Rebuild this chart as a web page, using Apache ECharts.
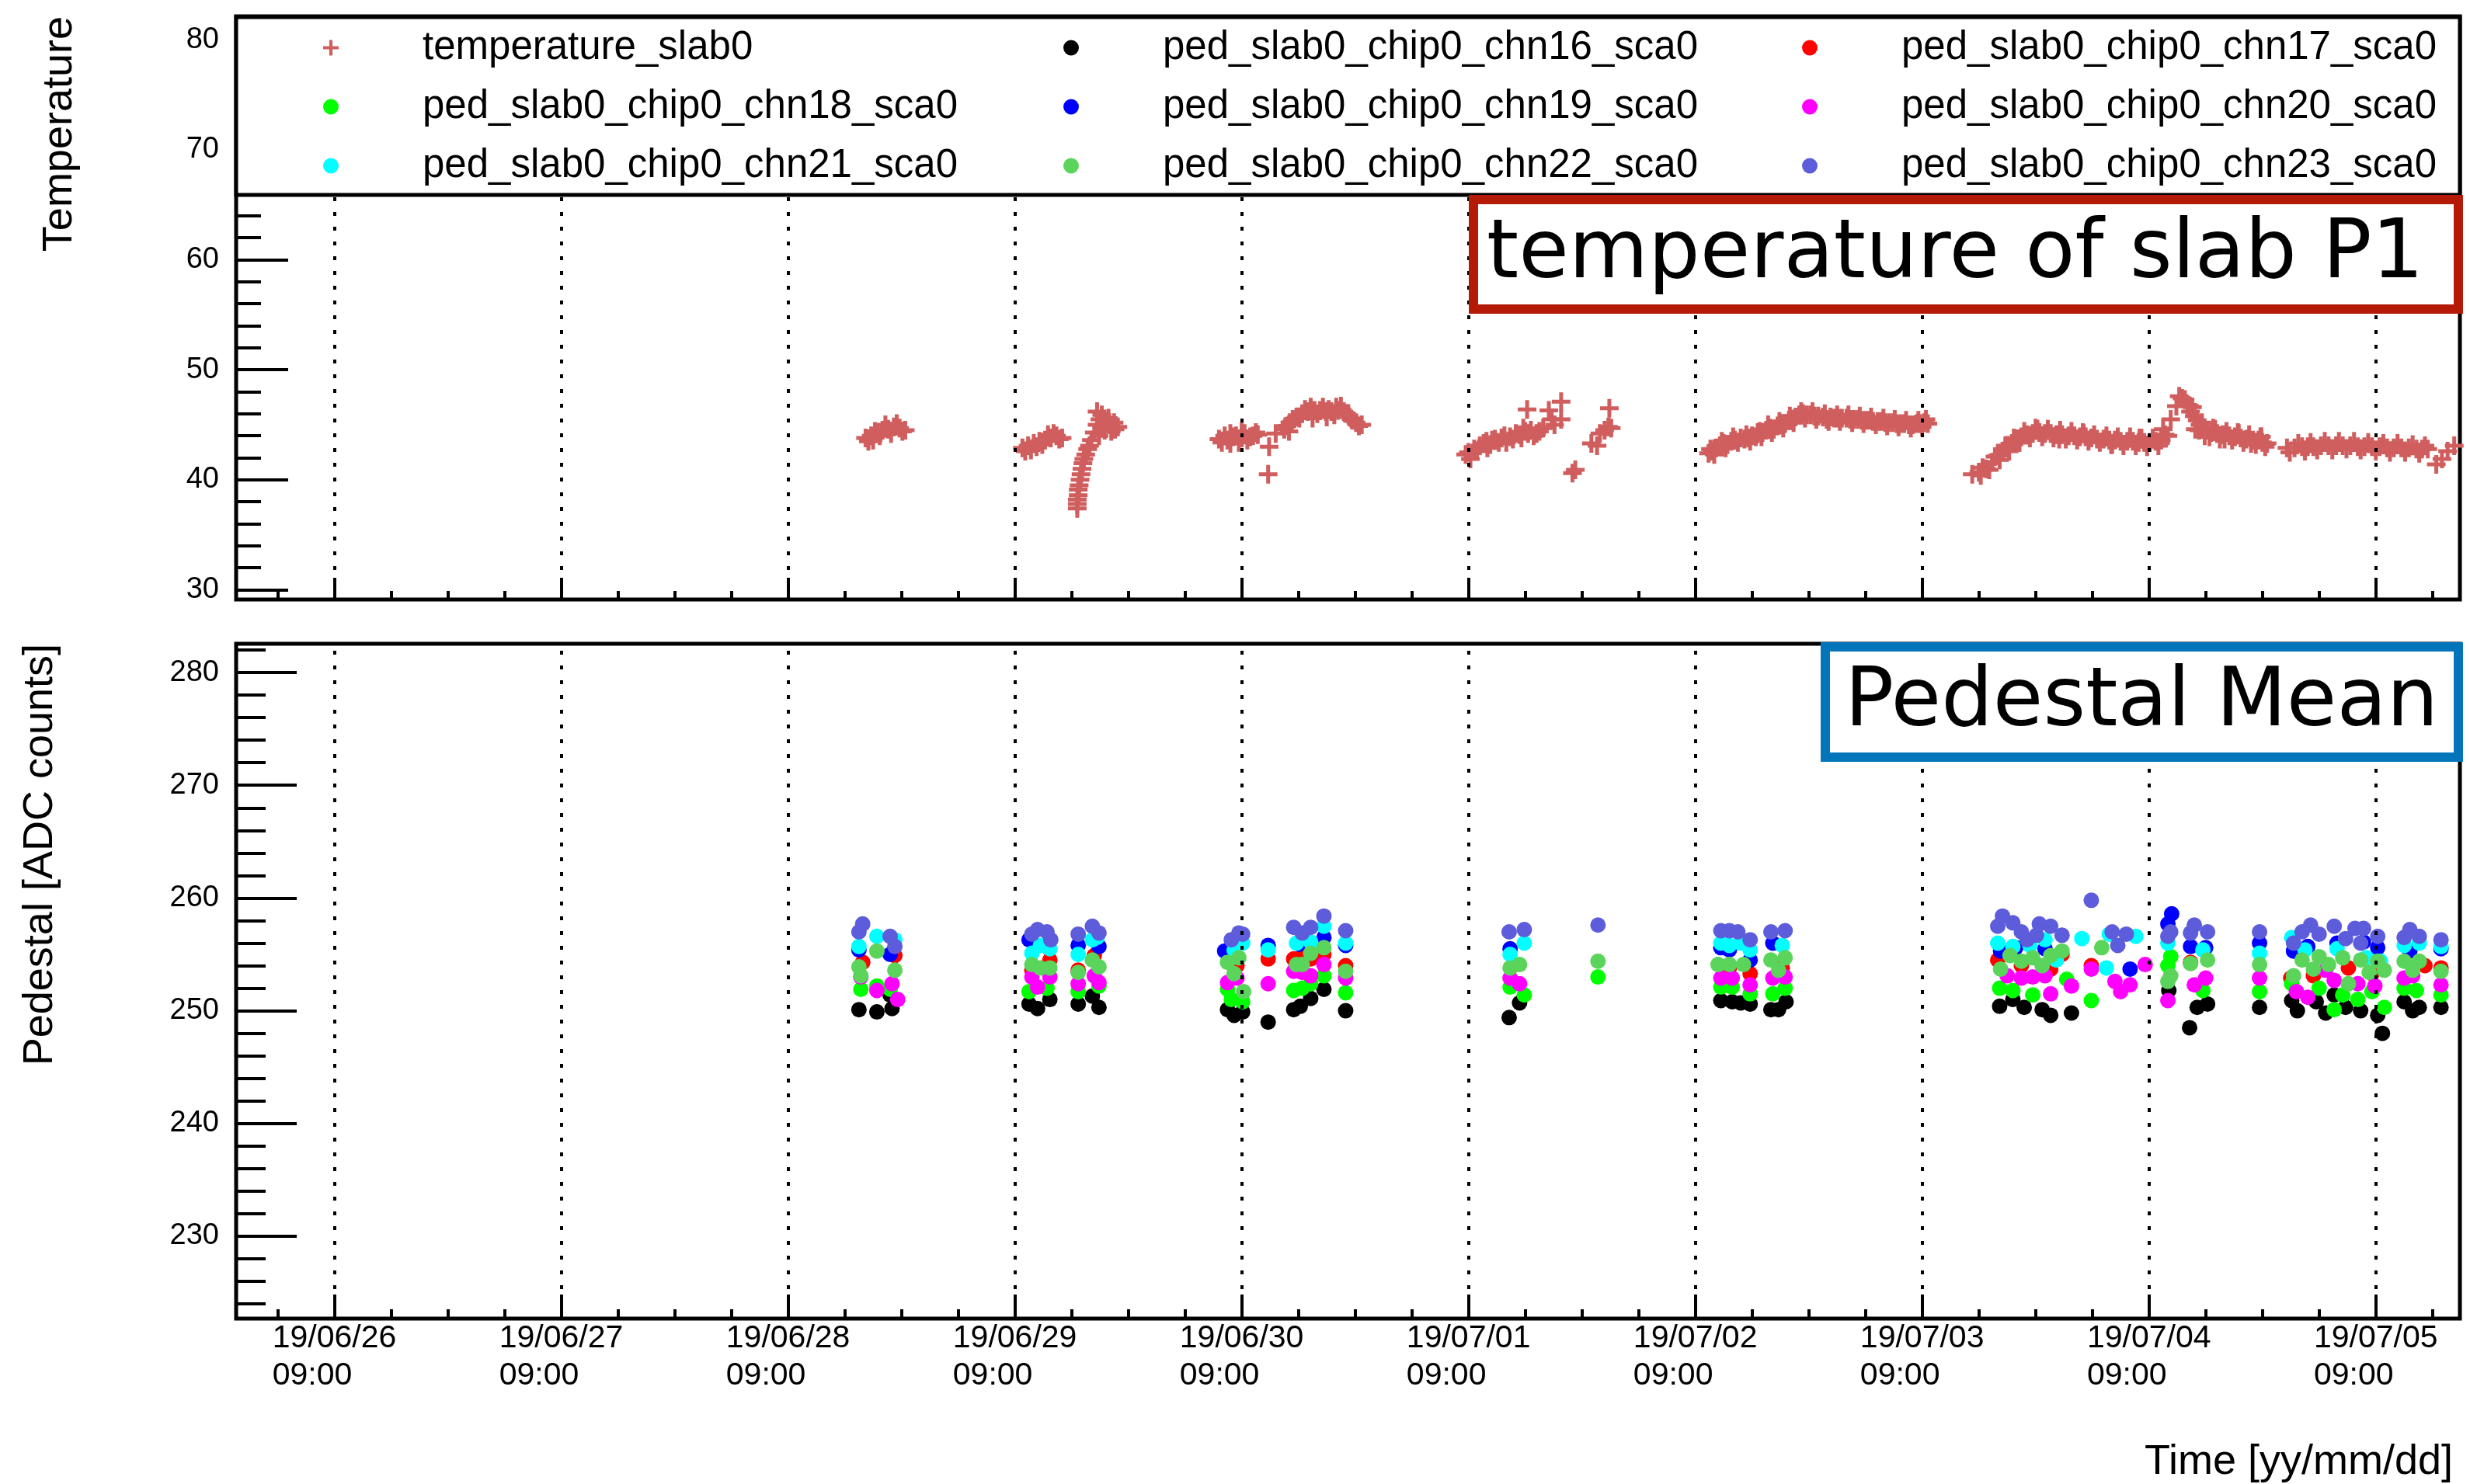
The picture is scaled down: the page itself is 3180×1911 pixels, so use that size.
<!DOCTYPE html>
<html>
<head>
<meta charset="utf-8">
<script src="https://cdn.jsdelivr.net/npm/echarts@6.0.0/dist/echarts.min.js"></script>
<style>
html, body { margin: 0; padding: 0; background: #fff; }
#myChart { width: 3180px; height: 1911px; }
</style>
</head>
<body>
<div id="myChart"></div>
<script>
// time is in hours since 19/06/26 09:00
var xRange = [-10.4, 224.9];
var xMajorTicks = [0, 24, 48, 72, 96, 120, 144, 168, 192, 216];
var xMinorTicks = [-6, 6, 12, 18, 30, 36, 42, 54, 60, 66, 78, 84, 90, 102, 108, 114, 126, 132, 138, 150, 156, 162, 174, 180, 186, 198, 204, 210, 222];
var xTickLabels = ['19/06/26\n09:00', '19/06/27\n09:00', '19/06/28\n09:00', '19/06/29\n09:00', '19/06/30\n09:00',
                   '19/07/01\n09:00', '19/07/02\n09:00', '19/07/03\n09:00', '19/07/04\n09:00', '19/07/05\n09:00'];

var tempRange = [29.12, 82.13];
var tempMajor = [30, 40, 50, 60, 70, 80];
var tempMinor = [32, 34, 36, 38, 42, 44, 46, 48, 52, 54, 56, 58, 62, 64, 66, 68, 72, 74, 76, 78, 82];

var pedRange = [222.7, 282.55];
var pedMajor = [230, 240, 250, 260, 270, 280];
var pedMinor = [224, 226, 228, 232, 234, 236, 238, 242, 244, 246, 248, 252, 254, 256, 258, 262, 264, 266, 268, 272, 274, 276, 278, 282];

var tempPoints = [
    // 06/28 evening
    [56.2,43.8],[56.5,43.5],[56.8,44.0],[57.0,43.6],[57.2,44.4],[57.4,44.3],[57.7,44.0],[58.0,44.5],[58.3,45.0],[58.6,44.6],
    [58.9,44.2],[59.2,44.8],[59.5,45.1],[59.8,44.7],[60.1,44.4],[60.4,44.5],
    // 06/29 morning
    [72.8,42.9],[73.1,42.6],[73.4,43.1],[73.7,42.7],[74.0,43.3],[74.3,43.0],[74.6,43.5],[74.9,43.2],[75.2,43.6],[75.5,44.1],
    [75.8,43.8],[76.1,44.2],[76.4,44.0],[76.7,43.7],[77.0,43.8],
    // 06/29 recovery
    [78.6,37.4],[78.6,37.8],[78.6,38.2],[78.7,38.6],[78.7,39.1],[78.8,39.5],[78.9,40.0],[79.0,40.5],[79.1,41.0],[79.2,41.5],
    [79.3,41.9],[79.5,42.3],[79.7,42.8],[79.9,43.1],[80.1,43.6],[80.4,44.3],[80.7,45.0],[80.7,46.2],[80.9,44.0],[81.0,45.5],
    [81.2,45.9],[81.3,44.8],[81.5,44.5],[81.7,45.3],[81.9,45.6],[82.0,45.0],[82.2,44.4],[82.3,44.8],[82.5,45.2],[82.6,44.6],
    [82.9,44.8],
    // 06/30 morning
    [93.6,43.7],[93.9,43.4],[94.2,44.0],[94.5,43.6],[94.8,44.2],[94.8,43.3],[95.1,43.9],[95.4,44.0],[95.7,43.4],[96.0,43.8],
    [96.0,44.4],[96.3,44.2],[96.6,43.6],[96.9,43.9],[97.2,44.0],[97.5,44.3],[97.7,44.1],
    [98.8,40.5],[98.9,43.0],[99.6,44.2],
    // 06/30 afternoon
    [100.5,44.6],[100.8,44.9],[101.0,44.4],[101.1,45.2],[101.4,45.5],[101.8,45.7],[102.1,45.6],[102.4,46.0],[102.7,46.4],
    [103.0,46.2],[103.3,46.6],[103.5,45.6],[103.7,46.3],[104.0,46.0],[104.3,46.3],[104.6,46.6],[104.9,46.2],[105.0,45.7],
    [105.2,46.4],[105.5,46.2],[105.8,45.9],[106.0,46.6],[106.2,46.3],[106.5,46.7],[106.8,46.2],[107.1,46.0],[107.4,45.7],
    [107.7,45.4],[108.1,45.2],[108.4,44.9],[108.7,45.0],
    // 07/01
    [119.7,42.3],[120.0,42.5],[120.2,41.9],[120.6,42.8],[120.9,42.6],[121.2,43.1],[121.6,43.3],[121.9,43.5],[122.0,42.9],
    [122.3,43.2],[122.5,43.6],[122.8,43.7],[123.2,43.4],[123.5,43.8],[123.8,44.0],[124.0,43.4],[124.4,43.9],[124.7,43.7],
    [125.0,44.2],[125.4,44.1],[125.6,43.8],[125.8,44.7],[126.0,44.4],[126.2,46.4],[126.3,44.2],[126.6,44.5],[126.9,44.0],
    [127.2,44.2],[127.5,44.4],[127.9,44.7],[128.5,46.3],[128.8,45.5],[129.1,45.0],[129.8,47.1],[129.8,45.5],
    [131.0,40.6],[131.3,40.9],
    [133.0,43.3],[133.6,43.1],[133.9,44.2],[134.4,44.5],[134.8,44.8],[134.9,46.5],[135.1,44.7],
    // 07/02
    [145.4,42.4],[145.8,42.6],[146.2,42.9],[146.6,43.1],[147.0,43.3],[147.4,43.2],[147.8,43.5],[148.2,43.6],[148.8,43.8],
    [149.2,43.7],[149.6,43.8],[150.0,44.0],[150.4,43.9],[150.8,44.4],[151.1,44.3],[151.5,44.5],[151.9,44.7],[152.3,44.6],
    [152.7,44.9],[153.1,45.0],[153.5,45.1],[153.9,45.4],[154.2,45.5],[154.6,45.7],[155.0,45.9],[155.4,46.0],[155.8,45.9],
    [156.2,45.9],[156.6,45.8],[157.0,45.8],[157.5,45.7],[157.9,45.5],[158.3,45.7],[158.7,45.6],[159.1,45.6],[159.5,45.6],
    [160.0,45.6],[160.4,45.5],[160.8,45.5],[161.2,45.5],[161.6,45.4],[162.0,45.4],[162.4,45.4],[162.8,45.3],[163.3,45.3],
    [163.7,45.3],[164.1,45.2],[164.5,45.2],[164.9,45.2],[165.3,45.1],[165.7,45.1],[166.1,45.1],[166.6,45.0],[167.0,45.0],
    [167.4,45.1],[167.8,45.1],[168.2,45.2],[168.6,45.1],
    [145.6,42.8],[146.8,43.5],[148.0,43.9],[149.4,44.1],[150.6,44.3],[151.7,45.0],[152.9,45.3],[154.0,45.8],[155.2,46.2],
    [156.4,46.2],[157.7,46.0],[159.0,45.9],[160.2,45.9],[161.4,45.8],[162.6,45.7],[163.9,45.6],[165.1,45.5],[166.3,45.4],
    [167.6,45.4],[168.4,45.5],
    [146.0,42.3],[147.2,42.9],[148.5,43.4],[149.8,43.5],[151.0,43.9],[152.1,44.3],[153.3,44.7],[154.4,45.2],[155.6,45.6],
    [156.8,45.5],[158.1,45.3],[159.3,45.3],[160.6,45.2],[161.8,45.1],[163.1,45.0],[164.3,44.9],[165.5,44.8],[166.8,44.7],
    [168.0,44.8],
    // 07/03 - 07/04
    [173.3,40.5],[174.0,40.7],[174.8,41.0],[175.4,41.6],[176.0,42.2],[176.5,42.6],[177.0,42.9],[177.5,43.3],[177.9,43.6],
    [178.2,43.4],[178.5,43.9],[179.1,44.1],[179.7,44.2],[180.0,44.7],[180.4,44.3],[181.0,44.2],[181.6,44.2],[182.2,44.1],
    [182.5,43.7],[182.8,44.1],[183.5,44.0],[184.1,44.0],[184.7,43.9],[185.0,44.3],[185.3,43.9],[185.9,43.8],[186.5,43.7],
    [187.2,43.7],[187.8,43.6],[188.0,43.2],[188.4,43.6],[189.0,43.5],[189.7,43.5],[190.3,43.5],[190.9,43.4],[191.0,43.8],
    [191.5,43.4],[192.1,43.4],[192.7,43.5],[193.3,43.6],[193.7,44.1],[194.3,45.5],[194.9,46.7],[195.5,47.4],[195.8,47.3],
    [196.1,46.8],[196.4,46.2],[196.6,46.6],[196.8,45.8],[197.1,45.4],[197.3,44.5],[197.4,45.0],[197.7,44.7],[198.1,44.5],
    [198.4,43.9],[198.6,44.3],[199.0,44.6],[199.2,44.2],[199.8,44.1],[200.0,43.7],[200.5,44.0],[201.1,43.9],[201.5,44.2],
    [201.7,43.8],[202.3,43.7],[202.8,43.3],[203.0,43.6],[203.6,43.6],[203.8,43.9],[204.0,43.4],[204.5,43.3],
    [174.4,41.1],[175.7,42.1],[176.8,43.1],[177.7,43.8],[178.8,44.4],[180.2,44.6],[181.3,44.6],[182.6,44.5],[183.8,44.4],
    [185.1,44.2],[186.2,44.1],[187.5,44.0],[188.7,43.9],[190.0,43.9],[191.2,43.8],[192.4,43.8],[193.5,44.6],[195.2,47.6],
    [196.3,46.7],[197.6,45.2],[198.8,44.7],[200.2,44.4],[201.4,44.3],[202.6,44.1],[203.9,43.9],
    [174.2,40.4],[175.1,40.9],[176.2,41.8],[177.2,42.6],[178.3,43.4],[179.4,43.8],[180.7,43.9],[181.9,43.8],[183.2,43.7],
    [184.4,43.6],[185.6,43.5],[186.8,43.4],[188.1,43.2],[189.3,43.1],[190.6,43.1],[191.8,43.0],[193.0,43.1],[194.0,44.0],
    [196.9,44.6],[197.9,44.0],[199.5,43.7],[200.8,43.6],[202.0,43.4],[203.3,43.2],[204.3,43.0],
    // 07/04 evening - 07/05
    [206.6,42.9],[206.9,42.5],[207.4,42.9],[207.8,43.3],[208.2,43.0],[208.5,42.6],[208.8,43.0],[209.1,43.4],[209.4,43.0],
    [209.8,42.7],[210.2,43.1],[210.6,43.5],[211.0,43.1],[211.4,42.7],[211.8,43.1],[212.1,43.5],[212.5,43.1],[212.9,42.8],
    [213.3,43.1],[213.7,43.5],[214.1,43.0],[214.4,42.7],[214.8,43.0],[215.2,43.4],[215.6,43.0],[216.0,42.6],[216.4,43.0],
    [216.8,43.3],[217.2,42.9],[217.5,42.5],[217.9,42.9],[218.3,43.3],[218.7,42.9],[219.1,42.5],[219.5,42.9],[219.9,43.2],
    [220.3,42.8],[220.6,42.4],[220.9,42.8],[221.2,43.1],[221.5,42.8],
    [222.4,41.4],[223.0,41.9],[223.6,42.6],[224.3,43.1]
];

var ped16 = [[55.5,250.1],[57.4,249.9],[59.0,250.2],[58.8,251.4],[73.5,250.6],[74.4,250.2],[75.7,251.0],[78.7,250.6],[80.2,251.3],[80.9,250.3],
    [94.5,250.1],[95.2,249.6],[96.1,249.9],[98.8,249.0],[101.5,250.1],[102.2,250.4],[103.3,251.1],[104.7,251.9],[107.0,250.0],
    [125.4,250.7],[124.3,249.4],[146.7,250.9],[147.9,250.8],[148.8,250.7],[149.8,250.6],[152.0,250.1],[152.8,250.1],[153.6,250.8],
    [176.2,250.4],[177.6,251.0],[178.8,250.3],[180.7,250.1],[181.6,249.6],[183.8,249.8],[194.1,251.8],[197.1,250.3],[198.2,250.6],
    [196.3,248.5],[203.7,250.3],[207.1,250.9],[207.7,250.0],[209.7,250.8],[210.7,249.8],[211.6,251.4],[212.8,250.3],[214.4,250.0],
    [216.2,249.6],[216.7,248.0],[219.0,250.8],[219.9,250.0],[220.6,250.3],[222.9,250.3]];
var ped17 = [[55.9,254.3],[59.3,254.9],[73.8,253.6],[75.7,254.5],[80.4,254.9],[78.7,253.6],[95.5,254.0],[98.8,254.6],
    [101.5,254.6],[102.4,254.8],[103.3,254.6],[104.7,255.0],[107.0,254.0],[124.7,254.0],[147.6,253.8],[149.8,253.3],[153.2,253.8],
    [176.0,254.5],[178.5,254.0],[181.6,253.7],[182.8,255.0],[185.9,254.0],[196.4,254.3],[207.0,252.9],[209.4,253.1],[213.1,253.8],
    [215.6,253.3],[221.2,254.0],[222.9,253.8]];
var ped18 = [[55.7,251.9],[57.4,252.2],[58.8,251.9],[73.5,251.7],[75.4,252.0],[78.7,251.7],[80.9,252.2],[94.9,251.0],[96.1,250.8],
    [94.5,251.9],[101.5,251.8],[102.4,252.0],[103.3,252.4],[104.7,253.1],[107.0,251.6],[124.4,252.1],[125.9,251.4],[133.7,253.0],
    [146.7,252.1],[147.9,252.1],[149.8,251.5],[152.2,251.5],[153.5,252.0],[176.2,252.0],[177.6,251.8],[179.7,251.4],[183.3,252.8],
    [185.9,250.9],[194.3,254.8],[194.0,254.0],[197.7,251.8],[203.7,251.7],[207.1,252.4],[210.0,252.0],[211.6,250.1],[212.5,251.4],
    [214.1,251.0],[215.6,251.7],[216.9,250.3],[219.0,252.0],[220.3,251.8],[222.9,251.4]];
var ped19 = [[55.5,255.4],[58.8,255.0],[73.5,256.3],[75.4,255.7],[78.7,255.8],[80.9,255.7],[94.2,255.3],[98.8,255.8],
    [102.1,255.9],[104.7,256.5],[107.0,255.8],[124.4,255.5],[146.7,255.6],[147.6,255.4],[149.8,254.5],[152.2,256.0],
    [176.3,255.3],[177.9,255.6],[181.0,255.5],[190.0,253.7],[194.4,258.6],[194.0,257.7],[196.4,255.7],[198.0,255.6],[203.7,256.0],
    [207.3,255.3],[208.8,255.7],[211.9,256.0],[214.7,256.1],[216.2,255.6],[219.6,255.3],[222.9,255.5]];
var ped20 = [[55.7,253.0],[59.0,252.4],[57.4,251.8],[59.6,251.0],[73.8,253.0],[74.4,252.1],[75.7,253.0],[78.7,252.4],[80.4,253.1],
    [80.9,252.5],[94.5,252.5],[95.5,252.9],[98.8,252.4],[101.5,253.5],[102.4,253.4],[103.3,253.1],[104.7,254.1],[107.0,252.9],
    [124.4,252.9],[125.4,252.4],[146.7,252.9],[147.9,252.9],[149.8,252.3],[152.2,252.9],[153.5,253.0],[177.0,253.1],[178.5,252.9],
    [179.7,253.0],[181.0,253.1],[181.6,251.5],[183.8,252.2],[185.9,253.7],[188.4,252.6],[189.0,251.7],[190.0,252.3],[191.6,254.1],
    [194.0,250.9],[196.8,252.3],[198.0,252.9],[203.7,252.9],[207.6,251.7],[208.8,251.2],[210.7,253.6],[211.6,252.7],[214.1,252.4],
    [215.9,252.2],[219.0,252.9],[219.9,253.1],[222.9,252.3]];
var ped21 = [[55.5,255.7],[57.4,256.6],[59.3,256.3],[73.8,255.1],[74.7,255.8],[75.7,255.5],[78.7,255.0],[80.2,256.3],[80.7,256.5],
    [95.2,255.4],[96.1,256.0],[98.8,255.4],[101.8,256.0],[103.3,256.1],[104.7,257.5],[107.0,256.0],[124.4,255.0],[125.9,256.0],
    [146.7,256.0],[147.6,255.8],[148.8,256.0],[149.8,255.4],[153.2,255.8],[176.0,256.0],[177.6,255.7],[179.4,255.8],[181.0,256.3],
    [182.2,254.5],[184.9,256.4],[187.8,256.8],[190.6,256.6],[187.5,253.8],[194.0,256.0],[197.7,255.4],[203.7,255.1],[207.1,256.5],
    [208.5,255.4],[211.9,255.5],[215.0,254.7],[216.5,254.4],[219.0,255.8],[220.6,256.0],[222.9,255.7]];
var ped22 = [[55.5,253.9],[57.4,255.3],[59.3,253.6],[55.7,253.1],[73.8,254.1],[74.7,253.8],[75.7,253.8],[80.2,254.5],[80.9,253.9],
    [78.7,253.4],[94.5,254.3],[95.7,254.7],[95.2,253.3],[96.2,251.7],[101.8,254.1],[102.4,254.1],[103.3,255.1],[104.7,255.6],
    [107.0,253.5],[124.4,253.8],[125.4,254.1],[133.7,254.4],[146.4,254.1],[147.6,254.1],[149.1,254.1],[152.0,254.5],[153.5,254.7],
    [152.8,253.6],[176.3,253.7],[177.3,254.9],[178.5,254.4],[179.7,254.7],[180.7,254.0],[181.6,254.9],[182.8,255.3],[187.0,255.6],
    [194.3,253.1],[194.0,252.6],[196.4,254.2],[198.2,254.5],[203.7,254.1],[207.3,253.1],[208.2,254.5],[209.4,253.7],[210.0,254.8],
    [211.0,254.1],[212.5,254.7],[213.1,252.4],[214.4,254.5],[215.3,253.4],[216.2,254.4],[216.9,253.6],[219.0,254.4],[219.9,253.6],
    [220.6,254.4],[222.9,253.5]];
var ped23 = [[55.9,257.7],[55.5,257.0],[58.8,256.6],[59.3,255.7],[73.8,256.8],[74.4,257.2],[75.4,257.0],[75.8,256.3],[78.7,256.8],
    [80.2,257.5],[80.9,256.9],[94.9,256.3],[95.7,256.9],[96.1,256.8],[101.5,257.4],[102.4,256.9],[103.3,257.4],[104.7,258.4],
    [107.0,257.1],[124.3,257.0],[125.9,257.2],[133.7,257.6],[146.7,257.1],[147.6,257.1],[148.5,257.0],[149.8,256.3],[152.0,257.0],
    [153.5,257.1],[176.5,258.4],[176.0,257.5],[177.6,257.8],[178.5,257.0],[179.1,256.3],[180.4,257.7],[181.6,257.5],[182.8,256.7],
    [180.1,256.7],[185.9,259.8],[188.1,257.0],[188.7,255.8],[189.6,256.8],[194.3,257.0],[196.4,256.9],[196.8,257.6],[198.2,257.0],
    [194.0,256.6],[203.7,257.0],[207.3,256.0],[208.2,257.0],[209.1,257.6],[210.0,256.8],[211.6,257.5],[212.8,256.4],[213.8,257.3],
    [214.7,257.3],[214.4,256.0],[216.2,256.6],[219.6,257.2],[219.0,256.5],[220.6,256.6],[222.9,256.3]];

var pedNames = ['ped_slab0_chip0_chn16_sca0', 'ped_slab0_chip0_chn17_sca0', 'ped_slab0_chip0_chn18_sca0', 'ped_slab0_chip0_chn19_sca0',
                'ped_slab0_chip0_chn20_sca0', 'ped_slab0_chip0_chn21_sca0', 'ped_slab0_chip0_chn22_sca0', 'ped_slab0_chip0_chn23_sca0'];
var pedColors = ['#000000', '#ff0000', '#00ff00', '#0000ff', '#ff00ff', '#00ffff', '#5ad45a', '#5d5cdb'];
var pedData = [ped16, ped17, ped18, ped19, ped20, ped21, ped22, ped23];
var tempName = 'temperature_slab0';
var tempColor = '#d05e5e';

var FONT = 'Liberation Sans, Arial, Helvetica, sans-serif';
var plusPath = 'path://M-1.25,-6L1.25,-6L1.25,-1.25L6,-1.25L6,1.25L1.25,1.25L1.25,6L-1.25,6L-1.25,1.25L-6,1.25L-6,-1.25L-1.25,-1.25Z';

var myChart = echarts.init(document.getElementById('myChart'));

var panels = [
    {left: 304, top: 21, width: 2863, height: 751},
    {left: 304, top: 829, width: 2863, height: 869}
];

function gridOf(p, show){
    return {left: p.left, top: p.top, width: p.width, height: p.height, show: show,
        borderColor: '#000', borderWidth: 5, backgroundColor: 'transparent',
        containLabel: false, outerBoundsMode: 'none'};
}

function xAxisOf(gi, ticks, len, labels){
    return {
        type: 'value', gridIndex: gi, min: xRange[0], max: xRange[1], position: 'bottom',
        axisLine: {show: false, onZero: false},
        splitLine: {show: false},
        axisTick: {show: true, inside: true, length: len, customValues: ticks, lineStyle: {color: '#000', width: 4}},
        axisLabel: labels ? {
            show: true, customValues: xMajorTicks, margin: 2,
            formatter: function(v){
                var i = xMajorTicks.indexOf(v);
                var parts = xTickLabels[i].split('\n');
                return '{d|' + parts[0] + '}\n{d|' + parts[1] + '}';
            },
            rich: {d: {fontSize: 41, fontFamily: FONT, color: '#000', lineHeight: 48, align: 'left'}}
        } : {show: false}
    };
}

function yAxisOf(gi, range, ticks, len, labels){
    return {
        type: 'value', gridIndex: gi, min: range[0], max: range[1], position: 'left',
        axisLine: {show: false, onZero: false},
        splitLine: {show: false},
        axisTick: {show: true, inside: true, length: len, customValues: ticks, lineStyle: {color: '#000', width: 4}},
        axisLabel: labels ? {show: true, customValues: ticks, margin: 22, fontSize: 38, fontFamily: FONT, color: '#000'} : {show: false}
    };
}

var dotted = {
    silent: true, symbol: ['none', 'none'], label: {show: false},
    lineStyle: {color: '#000', width: 4, type: [5, 14], opacity: 1},
    emphasis: {disabled: true},
    data: xMajorTicks.map(function(v){ return {xAxis: v}; })
};

var series = [
    {type: 'line', xAxisIndex: 0, yAxisIndex: 0, data: [], z: 1, silent: true, markLine: dotted},
    {type: 'line', xAxisIndex: 2, yAxisIndex: 2, data: [], z: 1, silent: true, markLine: dotted},
    {name: tempName, type: 'scatter', xAxisIndex: 0, yAxisIndex: 0, symbol: plusPath, symbolSize: 24,
     itemStyle: {color: tempColor, opacity: 1}, emphasis: {disabled: true}, data: tempPoints, z: 3}
];
for (var i = 0; i < pedData.length; i++){
    series.push({name: pedNames[i], type: 'scatter', xAxisIndex: 2, yAxisIndex: 2, symbol: 'circle', symbolSize: 20,
        itemStyle: {color: pedColors[i], opacity: 1}, emphasis: {disabled: true}, data: pedData[i], z: 3});
}

function legendOf(left, names){
    return {
        left: left, top: 36, orient: 'vertical', padding: 0, itemGap: 25, itemWidth: 20, itemHeight: 20,
        selectedMode: false, z: 60,
        textStyle: {fontSize: 51, fontFamily: FONT, color: '#000', lineHeight: 50, padding: [0, 0, 0, 103]},
        data: names.map(function(n){ return {name: n, icon: n == tempName ? plusPath : 'circle'}; })
    };
}

function textEl(txt, x, y, size, family, align, rot){
    return {type: 'text', x: x, y: y, rotation: rot || 0, z: 70, silent: true,
        style: {text: txt, fontSize: size, fontFamily: family, fill: '#000',
            align: align, textAlign: align, verticalAlign: 'middle', textVerticalAlign: 'middle'}};
}

var option = {
    animation: false,
    textStyle: {fontFamily: FONT},
    grid: [gridOf(panels[0], true), gridOf(panels[0], false), gridOf(panels[1], true), gridOf(panels[1], false)],
    xAxis: [xAxisOf(0, xMajorTicks, 28, false), xAxisOf(1, xMinorTicks, 11, false),
            xAxisOf(2, xMajorTicks, 31, true), xAxisOf(3, xMinorTicks, 12, false)],
    yAxis: [yAxisOf(0, tempRange, tempMajor, 67, true), yAxisOf(1, tempRange, tempMinor, 32, false),
            yAxisOf(2, pedRange, pedMajor, 78, true), yAxisOf(3, pedRange, pedMinor, 38, false)],
    legend: [
        legendOf(416, [tempName, pedNames[2], pedNames[5]]),
        legendOf(1369, [pedNames[0], pedNames[3], pedNames[6]]),
        legendOf(2320, [pedNames[1], pedNames[4], pedNames[7]])
    ],
    graphic: [
        {type: 'rect', z: 50, silent: true, shape: {x: 304, y: 22, width: 2863, height: 229},
         style: {fill: '#fff', stroke: '#000', lineWidth: 5}},
        {type: 'rect', z: 50, silent: true, shape: {x: 1897, y: 257, width: 1268, height: 141},
         style: {fill: '#fff', stroke: '#b41a06', lineWidth: 12}},
        {type: 'rect', z: 50, silent: true, shape: {x: 2350, y: 833, width: 815, height: 142},
         style: {fill: '#fff', stroke: '#0376bb', lineWidth: 12}},
        textEl('temperature of slab P1', 1914, 330, 105, 'DejaVu Sans', 'left'),
        textEl('Pedestal Mean', 2375, 907, 105, 'DejaVu Sans', 'left'),
        textEl('Temperature', 77, 21, 54, FONT, 'right', Math.PI / 2),
        textEl('Pedestal [ADC counts]', 52, 829, 54, FONT, 'right', Math.PI / 2),
        textEl('Time [yy/mm/dd]', 3158, 1883, 54, FONT, 'right')
    ],
    series: series
};

myChart.setOption(option);
</script>
</body>
</html>
